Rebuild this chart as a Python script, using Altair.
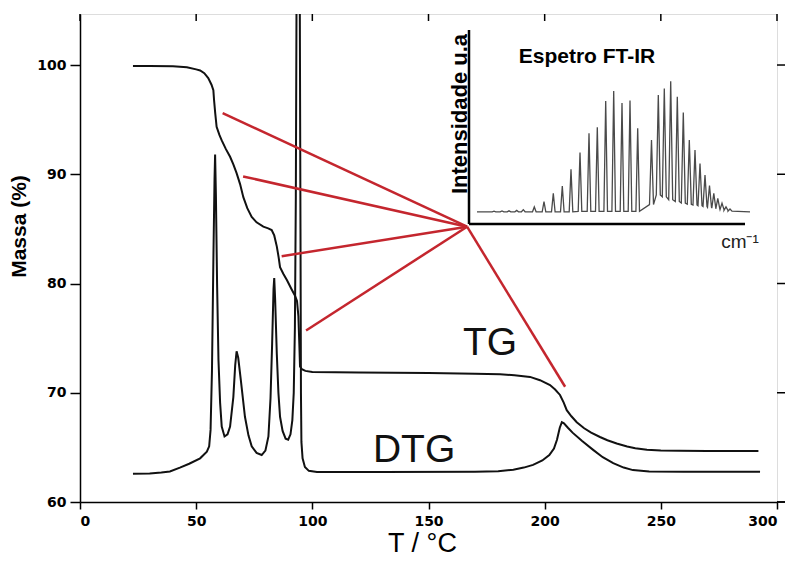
import altair as alt
import pandas as pd

# ---------------- data ----------------
tg_x = [22.8, 30, 40, 46, 50, 51.7, 53.5, 55.2, 56.6, 57.4, 57.7, 58.2, 58.8, 60, 61,
        62.8, 64.6, 66, 67.4, 68.9, 70.3, 72, 73.9, 76, 78.9, 81, 82.5, 83.6, 84.7, 85.5,
        86.1, 87.5, 89.1, 91, 92.5, 93.4, 94.0, 94.4, 94.7, 95.5, 97, 100, 120, 150, 170,
        180.8, 187, 193.7, 198, 202.3, 204.5, 206.6, 208.2, 209.5, 211.5, 213.8, 217, 220,
        223.8, 227, 231, 235.5, 239, 244, 250, 258, 270, 280, 292]
tg_y = [99.9, 99.9, 99.88, 99.8, 99.6, 99.5, 99.25, 98.8, 98.2, 97.7, 96.8, 95.6, 94.35, 93.6, 93.1,
        92.3, 91.6, 90.9, 90.1, 89.1, 87.9, 86.9, 86.1, 85.6, 85.2, 85.05, 84.9, 84.4, 83.4, 82.4,
        81.5, 80.9, 80.3, 79.5, 78.9, 78.4, 77.0, 74.5, 72.4, 72.15, 72.0, 71.9, 71.85, 71.8, 71.75,
        71.7, 71.6, 71.45, 71.15, 70.7, 70.3, 69.8, 69.1, 68.4, 67.85, 67.3, 66.75, 66.35,
        65.95, 65.65, 65.35, 65.08, 64.92, 64.78, 64.71, 64.68, 64.67, 64.67, 64.67]

dtg_x = [22.8, 30, 35, 38.7, 43, 47, 51.7, 54.6, 55.6, 56.2, 56.8, 57.4, 57.9, 58.15, 58.5,
         59.0, 59.6, 60.3, 61.0, 62.2, 63.5, 64.6, 66.0, 66.8, 67.4, 68.1, 69.2, 71.0, 72.5,
         73.9, 76, 78.2, 79.8, 81.1, 82.0, 82.7, 83.3, 83.6, 84.0, 84.7, 85.4, 86.1, 87.2,
         88.5, 89.6, 90.6, 91.4, 92.0, 92.5, 92.9, 93.2, 94.6, 94.9, 95.1, 95.3, 95.8, 96.8,
         98.5, 102, 130, 170, 180, 186.5, 191, 195, 199, 202, 204, 205.3, 206.5, 207.4, 208.3,
         210, 212, 216, 221, 225, 229.5, 234, 238, 245, 260, 292.7]
dtg_y = [62.58, 62.6, 62.7, 62.8, 63.15, 63.5, 64.0, 64.6, 65.1, 66.6, 72, 82, 89.5, 91.8, 88,
         80, 73, 69.1, 66.9, 66.0, 66.2, 66.9, 69.6, 72.5, 73.8, 73.2, 71.2, 67.8, 66.1,
         65.1, 64.5, 64.3, 64.7, 66, 69.5, 74.5, 79.5, 80.5, 78.5, 73.6, 70, 67.8, 66.5,
         65.8, 65.7, 66.2, 67.5, 70, 76, 88, 106, 106, 85, 70, 65.5, 64.0, 63.2,
         62.85, 62.75, 62.75, 62.78, 62.82, 62.95, 63.15, 63.4, 63.8, 64.3, 64.9, 65.7, 66.8, 67.3, 67.2,
         66.8, 66.35, 65.6, 64.75, 64.1, 63.55, 63.15, 62.92, 62.8, 62.78, 62.78]

hub_x, hub_y = 166.6, 85.2
red_end_x = [61.4, 70.2, 86.8, 97.3, 208.8]
red_end_y = [95.6, 89.8, 82.5, 75.7, 70.55]

curve_labels = ["TG", "DTG"]
curve_label_x = [176.5, 143.8]
curve_label_y = [73.45, 63.7]

x_ticks = [0, 50, 100, 150, 200, 250, 300]
y_ticks = [60, 70, 80, 90, 100]

# inset FT-IR spectrum (arbitrary units)
spec_peak_pos = [25, 33, 40, 47.7, 54.3, 65.3, 75, 84.3, 93.3, 102,
                 111, 120, 128.3, 136.7, 144.7, 153, 161, 168.7,
                 182.5, 189.3, 195.3, 201.7, 208.3, 214.3, 220.3, 226, 231, 236,
                 240.5, 244.8, 248.8, 253, 257, 261]
spec_peak_int = [6.6, 6.7, 6.8, 7.0, 7.4, 8.8, 11.5, 15.8, 19.6, 28.2,
                 36.8, 46.8, 49.8, 63.4, 68.6, 62.4, 63.6, 49.3,
                 43.3, 66.5, 69.9, 73.6, 65.6, 57.5, 43.3, 38.1, 31.2, 25.3,
                 19.8, 15.8, 13.2, 10.7, 8.8, 7.7]
spec_peak_foot = [6.3] * 10 + [6.5] * 8 + [10, 15, 14, 12.5, 11.6, 10.8, 10.2, 9.8, 9.4, 9.0,
                                           8.6, 8.2, 7.8, 7.4, 7.0, 6.6]
spec_start, spec_end, spec_base = 8, 281, 6.2
inset_x_max, inset_y_max = 276, 100

# ---------------- tables ----------------
tg_df = pd.DataFrame({"x": tg_x, "y": tg_y})
dtg_df = pd.DataFrame({"x": dtg_x, "y": dtg_y})
red_df = pd.DataFrame({"x": [hub_x] * len(red_end_x), "y": [hub_y] * len(red_end_x),
                       "x2": red_end_x, "y2": red_end_y})
lab_df = pd.DataFrame({"x": curve_label_x, "y": curve_label_y, "t": curve_labels})
xt_df = pd.DataFrame({"x": x_ticks})
yt_df = pd.DataFrame({"y": y_ticks})

sx, sy = [spec_start], [spec_base]
for p, h, f in zip(spec_peak_pos, spec_peak_int, spec_peak_foot):
    w = 1.8 if p < 175 else 2.0
    sx += [p - w, p, p + w]
    sy += [f, h, f]
sx.append(spec_end)
sy.append(spec_base)
spec_df = pd.DataFrame({"x": sx, "y": sy})

# ---------------- main chart ----------------
W, H = 697, 488
x_enc = alt.X("x:Q", scale=alt.Scale(domain=[0, 300], nice=False, zero=False),
              axis=alt.Axis(values=x_ticks, title="T / °C", grid=False,
                            labelFont="DejaVu Sans", labelFontWeight="bold", labelFontSize=14,
                            labelColor="black", labelPadding=5, tickSize=7, tickWidth=1.5,
                            tickColor="black", domainColor="black", domainWidth=1.5,
                            titleFont="Liberation Sans", titleFontSize=27,
                            titleFontWeight="normal", titleColor="black",
                            titleBaseline="alphabetic", titleX=342, titleY=49))
y_enc = alt.Y("y:Q", scale=alt.Scale(domain=[60, 104.67], nice=False, zero=False),
              axis=alt.Axis(values=y_ticks, title="Massa (%)", grid=False,
                            labelFont="DejaVu Sans", labelFontWeight="bold", labelFontSize=14,
                            labelColor="black", labelPadding=4, tickSize=10, tickWidth=1.5,
                            tickColor="black", domainColor="black", domainWidth=1.5,
                            titleFont="Liberation Sans", titleFontSize=21,
                            titleFontWeight="bold", titleColor="black", titleAngle=270,
                            titleBaseline="alphabetic", titleAlign="center",
                            titleX=-55, titleY=212))

tg_line = alt.Chart(tg_df).mark_line(color="#111111", strokeWidth=2, clip=True).encode(
    x=x_enc, y=y_enc, order="x:Q")
dtg_line = alt.Chart(dtg_df).mark_line(color="#111111", strokeWidth=2, clip=True).encode(
    x=x_enc, y=y_enc)
red_lines = alt.Chart(red_df).mark_rule(color="#c4262e", strokeWidth=2.5).encode(
    x=x_enc, y=y_enc, x2="x2:Q", y2="y2:Q")
labels = alt.Chart(lab_df).mark_text(font="Liberation Sans", fontSize=39, align="center",
                                     baseline="alphabetic", color="#111111").encode(
    x=x_enc, y=y_enc, text="t:N")
top_ticks = alt.Chart(xt_df).mark_rule(color="black", strokeWidth=1.5).encode(
    x=x_enc, y=alt.value(0), y2=alt.value(7))
right_ticks = alt.Chart(yt_df).mark_rule(color="black", strokeWidth=1.5).encode(
    y=y_enc, x=alt.value(W), x2=alt.value(W + 8))
axis_ext = alt.Chart(pd.DataFrame({"k": [0]})).mark_rule(color="black", strokeWidth=1.5).encode(
    x=alt.value(W), x2=alt.value(W + 8), y=alt.value(H))

main = alt.layer(tg_line, dtg_line, top_ticks, right_ticks, axis_ext, labels, red_lines)

# ---------------- inset ----------------
ix = alt.Scale(domain=[0, inset_x_max], range=[389, 665], nice=False, zero=False)
iy = alt.Scale(domain=[0, inset_y_max], range=[210, 16], nice=False, zero=False)

spec = alt.Chart(spec_df).mark_line(color="#4a4a4a", strokeWidth=1.3).encode(
    x=alt.X("x:Q", scale=ix, axis=None), y=alt.Y("y:Q", scale=iy, axis=None), order="x:Q")

iax_df = pd.DataFrame({"x": [0, 0], "y": [0, 0], "x2": [0, inset_x_max], "y2": [inset_y_max, 0]})
inset_axes = alt.Chart(iax_df).mark_rule(color="black", strokeWidth=2.5).encode(
    x=alt.X("x:Q", scale=ix, axis=None), y=alt.Y("y:Q", scale=iy, axis=None),
    x2="x2:Q", y2="y2:Q")

itxt1 = alt.Chart(pd.DataFrame({"x": [118], "y": [83], "t": ["Espetro FT-IR"]})).mark_text(
    font="Liberation Sans", fontSize=21, fontWeight="bold", align="center",
    baseline="alphabetic", color="black").encode(
    x=alt.X("x:Q", scale=ix, axis=None), y=alt.Y("y:Q", scale=iy, axis=None), text="t:N")
itxt2 = alt.Chart(pd.DataFrame({"x": [-2], "y": [56.7], "t": ["Intensidade u.a"]})).mark_text(
    font="Liberation Sans", fontSize=22, fontWeight="bold", align="center",
    baseline="alphabetic", angle=270, color="black").encode(
    x=alt.X("x:Q", scale=ix, axis=None), y=alt.Y("y:Q", scale=iy, axis=None), text="t:N")
itxt3 = alt.Chart(pd.DataFrame({"x": [271], "y": [-12.4], "t": ["cm⁻¹"]})).mark_text(
    font="Liberation Sans", fontSize=19, align="center",
    baseline="alphabetic", color="#222222").encode(
    x=alt.X("x:Q", scale=ix, axis=None), y=alt.Y("y:Q", scale=iy, axis=None), text="t:N")

inset = alt.layer(spec, inset_axes, itxt1, itxt2, itxt3)

chart = alt.layer(main, inset).resolve_scale(x="independent", y="independent").properties(
    width=W, height=H,
    padding={"left": 72, "top": 6, "right": 10, "bottom": 55},
    autosize=alt.AutoSizeParams(type="none"),
).configure_view(stroke="black", strokeWidth=1.5).configure(background="white")

chart.save("out.html", embed_options={"renderer": "svg", "actions": False})
